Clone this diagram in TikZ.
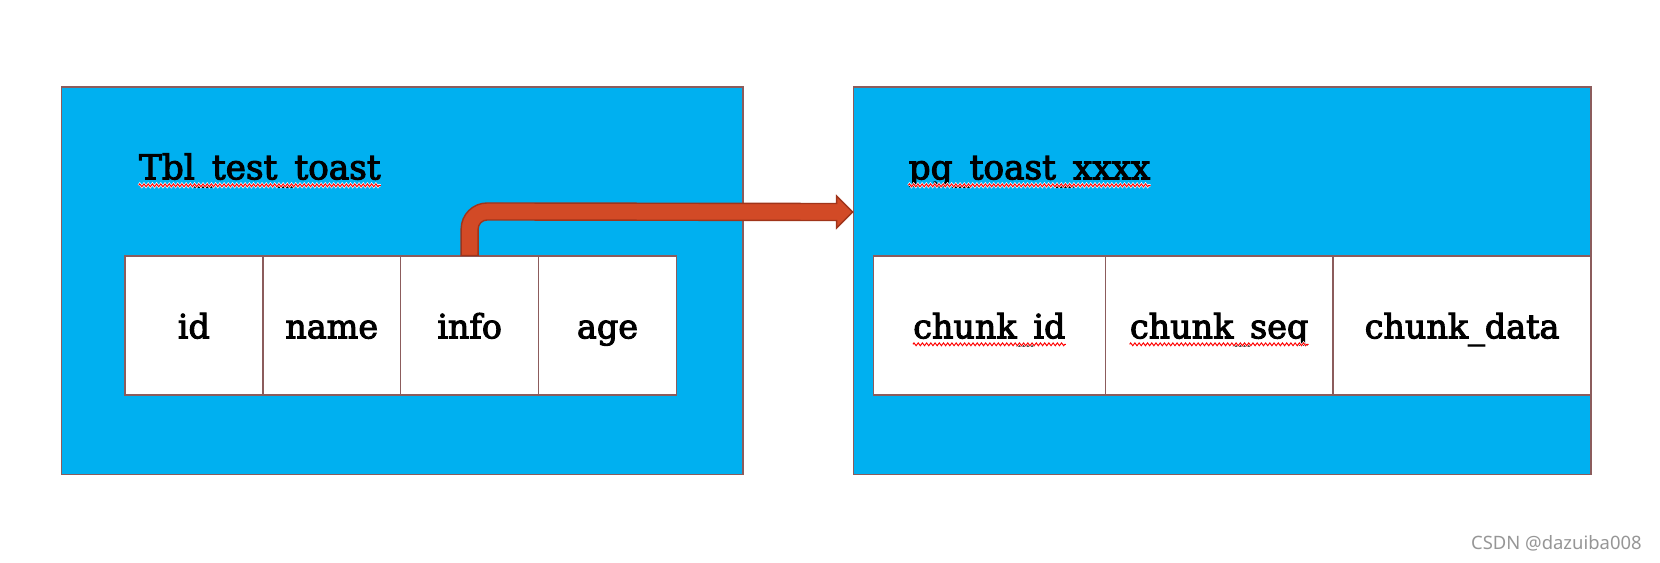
\documentclass[tikz,border=0pt]{standalone}
\usepackage{fontspec}
\setmainfont{DejaVu Serif}
\newfontfamily\slab{DejaVu Serif}[FakeBold=3]
\newfontfamily\wmfont{Noto Sans}
\usetikzlibrary{calc,decorations.pathmorphing}
\definecolor{boxblue}{RGB}{0,176,240}
\definecolor{edgebrown}{RGB}{140,92,92}
\definecolor{arrowfill}{RGB}{210,74,38}
\definecolor{arrowedge}{RGB}{160,52,26}
\definecolor{wmgray}{RGB}{150,150,150}
\tikzset{
  outerbox/.style={draw=edgebrown, fill=boxblue, line width=0.85pt, inner sep=0pt, minimum height=7.75cm},
  cellbox/.style={draw=edgebrown, fill=white, line width=0.85pt, inner sep=0pt, minimum height=2.774cm},
  celltext/.style={inner sep=0pt, anchor=base, font=\slab\fontsize{19pt}{22pt}\selectfont},
  titletext/.style={inner sep=0pt, anchor=base west, font=\slab\fontsize{19.5pt}{23pt}\selectfont},
  squigglehalo/.style={draw=white, line width=1.3pt, decorate, decoration={zigzag, amplitude=0.8pt, segment length=2.4pt}},
  squiggle/.style={draw=red, line width=0.55pt, decorate, decoration={zigzag, amplitude=0.8pt, segment length=2.4pt}},
  bigarrow/.style={draw=arrowedge, fill=arrowfill, line width=0.8pt, line join=miter},
}
\begin{document}
\begin{tikzpicture}[x=0.02cm,y=0.02cm]
\useasboundingbox (0,0) rectangle (1660,-562);
% outer boxes
\node[outerbox, minimum width=13.636cm] (lbox) at (402.3,-280.55) {};
\node[outerbox, minimum width=14.758cm] (rbox) at (1222.25,-280.55) {};
% titles
\node[titletext] (ltitle) at (138.7,-179.3) {Tbl\_test\_toast};
\node[titletext] (rtitle) at (908.4,-179.3) {pg\_toast\_xxxx};
\foreach \s in {squigglehalo,squiggle}{
  \draw[\s] ($(ltitle.base west)+(0,-6)$) -- ($(ltitle.base east)+(0,-6)$);
  \draw[\s] ($(rtitle.base west)+(0,-6)$) -- ($(rtitle.base east)+(0,-6)$);
}
% left table
\node[cellbox, minimum width=2.758cm] (cid)   at (193.85,-325.55) {};
\node[cellbox, minimum width=2.758cm] (cname) at (331.75,-325.55) {};
\node[cellbox, minimum width=2.758cm] (cinfo) at (469.65,-325.55) {};
\node[cellbox, minimum width=2.758cm] (cage)  at (607.55,-325.55) {};
\node[celltext] (tid)   at ($(cid.center)+(0,-12.75)$) {id};
\node[celltext] (tname) at ($(cname.center)+(0,-12.75)$) {name};
\node[celltext] (tinfo) at ($(cinfo.center)+(0,-12.75)$) {info};
\node[celltext] (tage)  at ($(cage.center)+(0,-12.75)$) {age};
% right table
\node[cellbox, minimum width=4.638cm] (ccid)   at (989.35,-325.55) {};
\node[cellbox, minimum width=4.554cm] (ccseq)  at (1219.15,-325.55) {};
\node[cellbox, minimum width=5.164cm] (ccdata) at (1462.1,-325.55) {};
\node[celltext] (tcid)   at ($(ccid.center)+(0,-12.75)$) {chunk\_id};
\node[celltext] (tcseq)  at ($(ccseq.center)+(0,-12.75)$) {chunk\_seq};
\node[celltext] (tcdata) at ($(ccdata.center)+(0,-12.75)$) {chunk\_data};
\foreach \s in {squigglehalo,squiggle}{
  \draw[\s] ($(tcid.base west)+(0,-6)$) -- ($(tcid.base east)+(0,-6)$);
  \draw[\s] ($(tcseq.base west)+(0,-6)$) -- ($(tcseq.base east)+(0,-6)$);
}
% arrow from info cell to right box
\coordinate (tip) at (rbox.west |- 0,-212);
\path[bigarrow]
  ($(cinfo.north)+(-8.5,0)$) -- ($(cinfo.north)+(-8.5,26.5)$)
  arc[start angle=180, end angle=90, radius=26]
  -- ($(tip)+(-16,8.5)$) -- ($(tip)+(-16,16)$) -- (tip) -- ($(tip)+(-16,-16)$)
  -- ($(tip)+(-16,-8.5)$) -- ($(cinfo.north)+(17.5,35.5)$)
  arc[start angle=90, end angle=180, radius=9]
  -- ($(cinfo.north)+(8.5,0)$) -- cycle;
% watermark
\node[inner sep=0pt, anchor=base east, text=wmgray, font=\wmfont\fontsize{10.5pt}{12pt}\selectfont] (wm) at (1642,-549.3) {CSDN @dazuiba008};
\end{tikzpicture}
\end{document}
